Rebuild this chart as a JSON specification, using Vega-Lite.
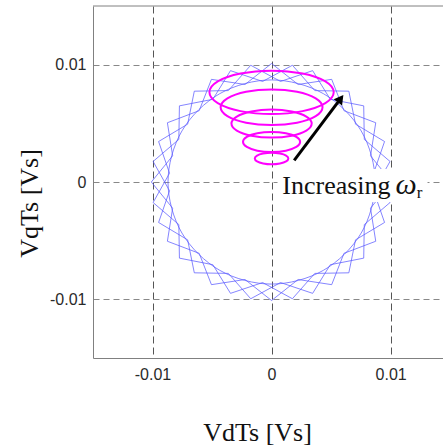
{
  "$schema": "https://vega.github.io/schema/vega-lite/v6.json",
  "width": 350,
  "height": 352,
  "autosize": {"type": "none"},
  "padding": {"left": 93, "top": 6, "right": 0, "bottom": 88},
  "background": "white",
  "config": {
    "view": {"stroke": null},
    "axis": {
      "ticks": false,
      "domainColor": "#808080",
      "labelFont": "Liberation Sans",
      "labelFontSize": 16,
      "labelColor": "#2a2a2a",
      "titleFont": "Liberation Serif",
      "titleFontSize": 26,
      "titleFontWeight": "normal",
      "titleColor": "#111111",
      "gridDash": [6, 4],
      "gridWidth": 1
    }
  },
  "data": {
    "values": [
      {"s":"z1","i":0,"x":0.0101,"y":0},
      {"s":"z1","i":1,"x":0.00831,"y":0.00223},
      {"s":"z1","i":2,"x":0.00875,"y":0.00505},
      {"s":"z1","i":3,"x":0.00608,"y":0.00608},
      {"s":"z1","i":4,"x":0.00505,"y":0.00875},
      {"s":"z1","i":5,"x":0.00223,"y":0.00831},
      {"s":"z1","i":6,"x":0,"y":0.0101},
      {"s":"z1","i":7,"x":-0.00223,"y":0.00831},
      {"s":"z1","i":8,"x":-0.00505,"y":0.00875},
      {"s":"z1","i":9,"x":-0.00608,"y":0.00608},
      {"s":"z1","i":10,"x":-0.00875,"y":0.00505},
      {"s":"z1","i":11,"x":-0.00831,"y":0.00223},
      {"s":"z1","i":12,"x":-0.0101,"y":0},
      {"s":"z1","i":13,"x":-0.00831,"y":-0.00223},
      {"s":"z1","i":14,"x":-0.00875,"y":-0.00505},
      {"s":"z1","i":15,"x":-0.00608,"y":-0.00608},
      {"s":"z1","i":16,"x":-0.00505,"y":-0.00875},
      {"s":"z1","i":17,"x":-0.00223,"y":-0.00831},
      {"s":"z1","i":18,"x":0,"y":-0.0101},
      {"s":"z1","i":19,"x":0.00223,"y":-0.00831},
      {"s":"z1","i":20,"x":0.00505,"y":-0.00875},
      {"s":"z1","i":21,"x":0.00608,"y":-0.00608},
      {"s":"z1","i":22,"x":0.00875,"y":-0.00505},
      {"s":"z1","i":23,"x":0.00831,"y":-0.00223},
      {"s":"z2","i":0,"x":0.00995,"y":0.00175},
      {"s":"z2","i":1,"x":0.00779,"y":0.00363},
      {"s":"z2","i":2,"x":0.00774,"y":0.00649},
      {"s":"z2","i":3,"x":0.00493,"y":0.00705},
      {"s":"z2","i":4,"x":0.00345,"y":0.00949},
      {"s":"z2","i":5,"x":0.00075,"y":0.00857},
      {"s":"z2","i":6,"x":-0.00175,"y":0.00995},
      {"s":"z2","i":7,"x":-0.00363,"y":0.00779},
      {"s":"z2","i":8,"x":-0.00649,"y":0.00774},
      {"s":"z2","i":9,"x":-0.00705,"y":0.00493},
      {"s":"z2","i":10,"x":-0.00949,"y":0.00345},
      {"s":"z2","i":11,"x":-0.00857,"y":0.00075},
      {"s":"z2","i":12,"x":-0.00995,"y":-0.00175},
      {"s":"z2","i":13,"x":-0.00779,"y":-0.00363},
      {"s":"z2","i":14,"x":-0.00774,"y":-0.00649},
      {"s":"z2","i":15,"x":-0.00493,"y":-0.00705},
      {"s":"z2","i":16,"x":-0.00345,"y":-0.00949},
      {"s":"z2","i":17,"x":-0.00075,"y":-0.00857},
      {"s":"z2","i":18,"x":0.00175,"y":-0.00995},
      {"s":"z2","i":19,"x":0.00363,"y":-0.00779},
      {"s":"z2","i":20,"x":0.00649,"y":-0.00774},
      {"s":"z2","i":21,"x":0.00705,"y":-0.00493},
      {"s":"z2","i":22,"x":0.00949,"y":-0.00345},
      {"s":"z2","i":23,"x":0.00857,"y":-0.00075},
      {"s":"z3","i":0,"x":0.00949,"y":0.00345},
      {"s":"z3","i":1,"x":0.00705,"y":0.00493},
      {"s":"z3","i":2,"x":0.00649,"y":0.00774},
      {"s":"z3","i":3,"x":0.00363,"y":0.00779},
      {"s":"z3","i":4,"x":0.00175,"y":0.00995},
      {"s":"z3","i":5,"x":-0.00075,"y":0.00857},
      {"s":"z3","i":6,"x":-0.00345,"y":0.00949},
      {"s":"z3","i":7,"x":-0.00493,"y":0.00705},
      {"s":"z3","i":8,"x":-0.00774,"y":0.00649},
      {"s":"z3","i":9,"x":-0.00779,"y":0.00363},
      {"s":"z3","i":10,"x":-0.00995,"y":0.00175},
      {"s":"z3","i":11,"x":-0.00857,"y":-0.00075},
      {"s":"z3","i":12,"x":-0.00949,"y":-0.00345},
      {"s":"z3","i":13,"x":-0.00705,"y":-0.00493},
      {"s":"z3","i":14,"x":-0.00649,"y":-0.00774},
      {"s":"z3","i":15,"x":-0.00363,"y":-0.00779},
      {"s":"z3","i":16,"x":-0.00175,"y":-0.00995},
      {"s":"z3","i":17,"x":0.00075,"y":-0.00857},
      {"s":"z3","i":18,"x":0.00345,"y":-0.00949},
      {"s":"z3","i":19,"x":0.00493,"y":-0.00705},
      {"s":"z3","i":20,"x":0.00774,"y":-0.00649},
      {"s":"z3","i":21,"x":0.00779,"y":-0.00363},
      {"s":"z3","i":22,"x":0.00995,"y":-0.00175},
      {"s":"z3","i":23,"x":0.00857,"y":0.00075},
      {"s":"c","i":0,"x":0.0087,"y":0},
      {"s":"c","i":1,"x":0.00753,"y":0.00435},
      {"s":"c","i":2,"x":0.00435,"y":0.00753},
      {"s":"c","i":3,"x":0,"y":0.0087},
      {"s":"c","i":4,"x":-0.00435,"y":0.00753},
      {"s":"c","i":5,"x":-0.00753,"y":0.00435},
      {"s":"c","i":6,"x":-0.0087,"y":0},
      {"s":"c","i":7,"x":-0.00753,"y":-0.00435},
      {"s":"c","i":8,"x":-0.00435,"y":-0.00753},
      {"s":"c","i":9,"x":0,"y":-0.0087},
      {"s":"c","i":10,"x":0.00435,"y":-0.00753},
      {"s":"c","i":11,"x":0.00753,"y":-0.00435},
      {"s":"e1","i":0,"x":0.00522,"y":0.00764},
      {"s":"e1","i":1,"x":0.00452,"y":0.00857},
      {"s":"e1","i":2,"x":0.00261,"y":0.00924},
      {"s":"e1","i":3,"x":0,"y":0.00949},
      {"s":"e1","i":4,"x":-0.00261,"y":0.00924},
      {"s":"e1","i":5,"x":-0.00452,"y":0.00857},
      {"s":"e1","i":6,"x":-0.00522,"y":0.00764},
      {"s":"e1","i":7,"x":-0.00452,"y":0.00672},
      {"s":"e1","i":8,"x":-0.00261,"y":0.00604},
      {"s":"e1","i":9,"x":0,"y":0.00579},
      {"s":"e1","i":10,"x":0.00261,"y":0.00604},
      {"s":"e1","i":11,"x":0.00452,"y":0.00672},
      {"s":"e2","i":0,"x":0.00428,"y":0.00637},
      {"s":"e2","i":1,"x":0.00371,"y":0.00713},
      {"s":"e2","i":2,"x":0.00214,"y":0.00769},
      {"s":"e2","i":3,"x":0,"y":0.00789},
      {"s":"e2","i":4,"x":-0.00214,"y":0.00769},
      {"s":"e2","i":5,"x":-0.00371,"y":0.00713},
      {"s":"e2","i":6,"x":-0.00428,"y":0.00637},
      {"s":"e2","i":7,"x":-0.00371,"y":0.00561},
      {"s":"e2","i":8,"x":-0.00214,"y":0.00505},
      {"s":"e2","i":9,"x":0,"y":0.00485},
      {"s":"e2","i":10,"x":0.00214,"y":0.00505},
      {"s":"e2","i":11,"x":0.00371,"y":0.00561},
      {"s":"e3","i":0,"x":0.00337,"y":0.00498},
      {"s":"e3","i":1,"x":0.00292,"y":0.00558},
      {"s":"e3","i":2,"x":0.00169,"y":0.00601},
      {"s":"e3","i":3,"x":0,"y":0.00617},
      {"s":"e3","i":4,"x":-0.00169,"y":0.00601},
      {"s":"e3","i":5,"x":-0.00292,"y":0.00558},
      {"s":"e3","i":6,"x":-0.00337,"y":0.00498},
      {"s":"e3","i":7,"x":-0.00292,"y":0.00438},
      {"s":"e3","i":8,"x":-0.00169,"y":0.00395},
      {"s":"e3","i":9,"x":0,"y":0.00379},
      {"s":"e3","i":10,"x":0.00169,"y":0.00395},
      {"s":"e3","i":11,"x":0.00292,"y":0.00438},
      {"s":"e4","i":0,"x":0.0024,"y":0.00341},
      {"s":"e4","i":1,"x":0.00208,"y":0.00384},
      {"s":"e4","i":2,"x":0.0012,"y":0.00415},
      {"s":"e4","i":3,"x":0,"y":0.00426},
      {"s":"e4","i":4,"x":-0.0012,"y":0.00415},
      {"s":"e4","i":5,"x":-0.00208,"y":0.00384},
      {"s":"e4","i":6,"x":-0.0024,"y":0.00341},
      {"s":"e4","i":7,"x":-0.00208,"y":0.00299},
      {"s":"e4","i":8,"x":-0.0012,"y":0.00267},
      {"s":"e4","i":9,"x":0,"y":0.00256},
      {"s":"e4","i":10,"x":0.0012,"y":0.00267},
      {"s":"e4","i":11,"x":0.00208,"y":0.00299},
      {"s":"e5","i":0,"x":0.00141,"y":0.0020},
      {"s":"e5","i":1,"x":0.00122,"y":0.00225},
      {"s":"e5","i":2,"x":0.00071,"y":0.00242},
      {"s":"e5","i":3,"x":0,"y":0.00249},
      {"s":"e5","i":4,"x":-0.00071,"y":0.00242},
      {"s":"e5","i":5,"x":-0.00122,"y":0.00225},
      {"s":"e5","i":6,"x":-0.00141,"y":0.0020},
      {"s":"e5","i":7,"x":-0.00122,"y":0.00175},
      {"s":"e5","i":8,"x":-0.00071,"y":0.00158},
      {"s":"e5","i":9,"x":0,"y":0.00151},
      {"s":"e5","i":10,"x":0.00071,"y":0.00158},
      {"s":"e5","i":11,"x":0.00122,"y":0.00175}
    ]
  },
  "layer": [
    {
      "transform": [{"filter": "datum.s === 'z1' || datum.s === 'z2' || datum.s === 'z3'"}],
      "mark": {"type": "line", "interpolate": "linear-closed", "stroke": "#5c5cff", "strokeWidth": 1, "opacity": 0.75, "clip": true},
      "encoding": {
        "x": {
          "field": "x", "type": "quantitative",
          "scale": {"domain": [-0.015, 0.0144], "nice": false, "zero": false},
          "axis": {
            "values": [-0.01, 0, 0.01],
            "grid": true,
            "gridColor": "#555555",
            "gridDash": [7, 4],
            "labelPadding": 8,
            "labelExpr": "datum.value === 0 ? '0' : (datum.value < 0 ? '-' : '') + format(abs(datum.value), '.2f')",
            "title": "VdTs [Vs]",
            "titleX": 164,
            "titleY": 82,
            "titleBaseline": "alphabetic",
            "titleAnchor": null
          }
        },
        "y": {
          "field": "y", "type": "quantitative",
          "scale": {"domain": [-0.015, 0.015], "nice": false, "zero": false},
          "axis": {
            "values": [-0.01, 0, 0.01],
            "grid": true,
            "gridColor": "#888888",
            "labelPadding": 7,
            "labelExpr": "datum.value === 0 ? '0' : (datum.value < 0 ? '-' : '') + format(abs(datum.value), '.2f')",
            "title": "VqTs [Vs]",
            "titleAngle": 270,
            "titleX": -56,
            "titleY": 197,
            "titleBaseline": "alphabetic",
            "titleAlign": "center"
          }
        },
        "detail": {"field": "s"},
        "order": {"field": "i", "type": "quantitative"}
      }
    },
    {
      "transform": [{"filter": "datum.s === 'c'"}],
      "mark": {"type": "line", "interpolate": "cardinal-closed", "stroke": "#5c5cff", "strokeWidth": 1, "opacity": 0.75},
      "encoding": {
        "x": {"field": "x", "type": "quantitative"},
        "y": {"field": "y", "type": "quantitative"},
        "order": {"field": "i", "type": "quantitative"}
      }
    },
    {
      "data": {"values": [{}]},
      "mark": {"type": "rule", "color": "#808080", "strokeWidth": 1},
      "encoding": {"y": {"datum": 0.015, "type": "quantitative"}}
    },
    {
      "data": {"values": [{}]},
      "mark": {"type": "rect", "fill": "white"},
      "encoding": {
        "x": {"datum": 0.0005, "type": "quantitative"},
        "x2": {"datum": 0.0131},
        "y": {"datum": 0.0011, "type": "quantitative"},
        "y2": {"datum": -0.0017}
      }
    },
    {
      "data": {"values": [{"t": "Increasing"}]},
      "mark": {"type": "text", "font": "Liberation Serif", "fontSize": 26, "align": "left", "baseline": "alphabetic", "color": "#111111"},
      "encoding": {
        "x": {"datum": 0.0009, "type": "quantitative"},
        "y": {"datum": -0.00105, "type": "quantitative"},
        "text": {"field": "t"}
      }
    },
    {
      "data": {"values": [{"t": "ω"}]},
      "mark": {"type": "text", "font": "Liberation Serif", "fontSize": 30, "fontStyle": "italic", "align": "left", "baseline": "alphabetic", "color": "#111111"},
      "encoding": {
        "x": {"datum": 0.0104, "type": "quantitative"},
        "y": {"datum": -0.00105, "type": "quantitative"},
        "text": {"field": "t"}
      }
    },
    {
      "data": {"values": [{"t": "r"}]},
      "mark": {"type": "text", "font": "Liberation Serif", "fontSize": 17, "align": "left", "baseline": "alphabetic", "color": "#111111"},
      "encoding": {
        "x": {"datum": 0.0122, "type": "quantitative"},
        "y": {"datum": -0.0014, "type": "quantitative"},
        "text": {"field": "t"}
      }
    },
    {
      "transform": [{"filter": "indexof(datum.s, 'e') === 0"}],
      "mark": {"type": "line", "interpolate": "cardinal-closed", "stroke": "#ff00ff", "strokeWidth": 2},
      "encoding": {
        "x": {"field": "x", "type": "quantitative"},
        "y": {"field": "y", "type": "quantitative"},
        "detail": {"field": "s"},
        "order": {"field": "i", "type": "quantitative"}
      }
    },
    {
      "data": {"values": [{}]},
      "mark": {"type": "rule", "color": "black", "strokeWidth": 3},
      "encoding": {
        "x": {"datum": 0.0019, "type": "quantitative"},
        "y": {"datum": 0.00185, "type": "quantitative"},
        "x2": {"datum": 0.0058},
        "y2": {"datum": 0.0071}
      }
    },
    {
      "data": {"values": [{}]},
      "mark": {"type": "point", "shape": "triangle-up", "filled": true, "color": "black", "opacity": 1, "size": 110, "angle": 37},
      "encoding": {
        "x": {"datum": 0.0058, "type": "quantitative"},
        "y": {"datum": 0.0071, "type": "quantitative"}
      }
    }
  ]
}
